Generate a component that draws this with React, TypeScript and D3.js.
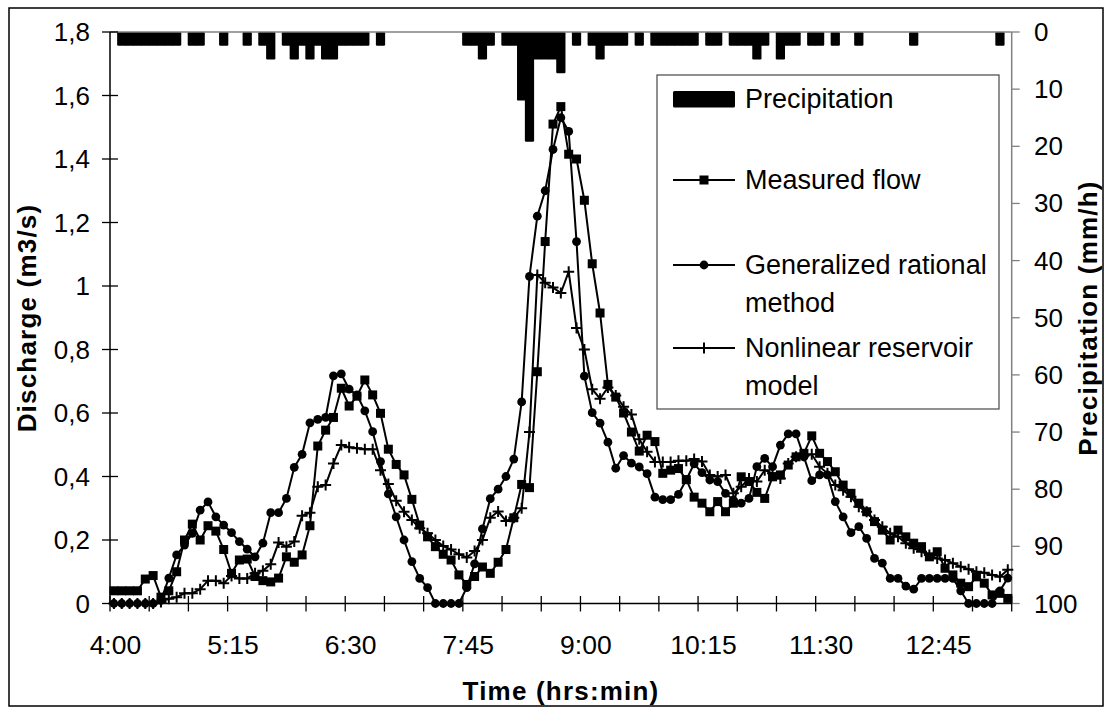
import React from 'react';
import * as d3 from 'd3';

// ---------- data ----------
const times: string[] = d3.range(115).map((i) => {
  const m = 240 + 5 * i;
  return `${Math.floor(m / 60)}:${String(m % 60).padStart(2, '0')}`;
});

const xTickLabels = ['4:00', '5:15', '6:30', '7:45', '9:00', '10:15', '11:30', '12:45'];
const leftTicks = [0, 0.2, 0.4, 0.6, 0.8, 1, 1.2, 1.4, 1.6, 1.8];
const leftTickLabels = ['0', '0,2', '0,4', '0,6', '0,8', '1', '1,2', '1,4', '1,6', '1,8'];
const rightTicks = [0, 10, 20, 30, 40, 50, 60, 70, 80, 90, 100];

const precipitation = [
  0, 2.4, 2.4, 2.4, 2.4, 2.4, 2.4, 2.4, 2.4, 0,
  2.4, 2.4, 0, 0, 2.4, 0, 0, 2.4, 0, 2.4,
  4.8, 0, 2.4, 4.8, 2.4, 4.8, 2.4, 4.8, 4.8, 2.4,
  2.4, 2.4, 2.4, 0, 2.4, 0, 0, 0, 0, 0,
  0, 0, 0, 0, 0, 2.4, 2.4, 4.8, 2.4, 0,
  2.4, 2.4, 12, 19.2, 4.8, 4.8, 4.8, 7.2, 0, 2.4,
  0, 2.4, 4.8, 2.4, 2.4, 2.4, 0, 2.4, 0, 2.4,
  2.4, 2.4, 2.4, 2.4, 2.4, 0, 2.4, 2.4, 0, 2.4,
  2.4, 2.4, 4.8, 2.4, 0, 4.8, 2.4, 2.4, 0, 2.4,
  2.4, 0, 2.4, 0, 0, 2.4, 0, 0, 0, 0,
  0, 0, 2.4, 0, 0, 0, 0, 0, 0, 0,
  0, 0, 0, 2.4, 0,
];

const measuredFlow = [
  0.04, 0.04, 0.04, 0.04, 0.077, 0.088, 0.02, 0.04, 0.1, 0.2,
  0.25, 0.2, 0.245, 0.228, 0.17, 0.095, 0.137, 0.14, 0.085, 0.072,
  0.068, 0.08, 0.147, 0.13, 0.153, 0.245, 0.496, 0.546, 0.586, 0.678,
  0.622, 0.653, 0.704, 0.657, 0.599, 0.486, 0.438, 0.405, 0.328, 0.247,
  0.21, 0.179, 0.155, 0.137, 0.09, 0.06, 0.085, 0.115, 0.095, 0.13,
  0.17, 0.27, 0.375, 0.365, 0.73, 1.14, 1.51, 1.565, 1.415, 1.4,
  1.27, 1.07, 0.915, 0.69, 0.65, 0.6, 0.54, 0.48, 0.53, 0.51,
  0.41, 0.42, 0.425, 0.39, 0.335, 0.316, 0.289, 0.321, 0.289, 0.316,
  0.399, 0.384, 0.35, 0.331, 0.399, 0.405, 0.436, 0.462, 0.473, 0.528,
  0.473, 0.447, 0.415, 0.373, 0.347, 0.316, 0.289, 0.258, 0.231, 0.2,
  0.231, 0.21, 0.19, 0.179, 0.147, 0.163, 0.111, 0.09, 0.064, 0.053,
  0.084, 0.064, 0.027, 0.032, 0.016,
];

const rationalMethod = [
  0, 0, 0, 0, 0, 0, 0.01, 0.08, 0.153, 0.184,
  0.221, 0.294, 0.32, 0.273, 0.247, 0.223, 0.195, 0.171, 0.147, 0.19,
  0.286, 0.286, 0.331, 0.429, 0.47, 0.569, 0.58, 0.586, 0.717, 0.723,
  0.675, 0.657, 0.607, 0.541, 0.447, 0.345, 0.273, 0.2, 0.132, 0.079,
  0.05, 0, 0, 0, 0, 0.05, 0.125, 0.235, 0.33, 0.36,
  0.4, 0.455, 0.635, 1.03, 1.22, 1.3, 1.43, 1.53, 1.487, 1.14,
  0.716, 0.601, 0.568, 0.508, 0.426, 0.466, 0.442, 0.43, 0.409, 0.335,
  0.327, 0.327, 0.344, 0.39, 0.44, 0.412, 0.389, 0.384, 0.347, 0.326,
  0.316, 0.331, 0.431, 0.457, 0.431, 0.499, 0.534, 0.534, 0.462, 0.387,
  0.405, 0.405, 0.321, 0.273, 0.223, 0.242, 0.205, 0.142, 0.127, 0.079,
  0.079, 0.055, 0.045, 0.079, 0.079, 0.079, 0.079, 0.079, 0.04, 0,
  0, 0, 0, 0.04, 0.08,
];

const reservoirModel = [
  0, 0, 0, 0, 0, 0, 0.005, 0.015, 0.02, 0.032,
  0.032, 0.045, 0.072, 0.072, 0.064, 0.087, 0.079, 0.079, 0.095, 0.103,
  0.124, 0.192, 0.179, 0.195, 0.276, 0.286, 0.368, 0.373, 0.441, 0.499,
  0.492, 0.489, 0.486, 0.486, 0.42, 0.376, 0.324, 0.289, 0.263, 0.237,
  0.221, 0.2, 0.181, 0.17, 0.155, 0.145, 0.165, 0.2, 0.27, 0.29,
  0.26, 0.27, 0.3, 0.54, 1.035, 1.01, 0.995, 0.978, 1.045, 0.868,
  0.8, 0.675, 0.645, 0.68, 0.655, 0.62, 0.595, 0.517, 0.478, 0.446,
  0.446, 0.446, 0.45, 0.45, 0.455, 0.447, 0.405, 0.4, 0.405, 0.347,
  0.368, 0.394, 0.384, 0.42, 0.41, 0.394, 0.441, 0.462, 0.465, 0.47,
  0.431, 0.41, 0.373, 0.357, 0.336, 0.305, 0.289, 0.263, 0.242, 0.221,
  0.21, 0.19, 0.174, 0.163, 0.153, 0.142, 0.137, 0.127, 0.116, 0.108,
  0.1, 0.097, 0.09, 0.084, 0.106,
];

// ---------- layout ----------
const W = 1109;
const H = 710;
const PL = 110;
const PR = 1011.7;
const PT = 32;
const PB = 603.5;
const FONT = '"Liberation Sans", Arial, sans-serif';

const x = d3.scaleBand<string>().domain(times).range([PL, PR]).paddingInner(0).paddingOuter(0);
const bw = x.bandwidth();
const cx = (i: number) => (x(times[i]) as number) + bw / 2;
const yL = d3.scaleLinear().domain([0, 1.8]).range([PB, PT]);
const yR = d3.scaleLinear().domain([0, 100]).range([PT, PB]);

const lineGen = d3
  .line<number>()
  .x((_d, i) => cx(i))
  .y((d) => yL(d));

const Square = ({ x0, y0 }: { x0: number; y0: number }) => (
  <rect x={x0 - 4.5} y={y0 - 4.5} width={9} height={9} fill="#000" />
);
const Dot = ({ x0, y0 }: { x0: number; y0: number }) => <circle cx={x0} cy={y0} r={4.4} fill="#000" />;
const Plus = ({ x0, y0 }: { x0: number; y0: number }) => (
  <path d={`M${x0 - 5.5},${y0}H${x0 + 5.5}M${x0},${y0 - 5.5}V${y0 + 5.5}`} stroke="#000" strokeWidth={2} fill="none" />
);

export default function App() {
  const boundaryTicks = d3.range(0, 116, 5).map((k) => PL + k * bw);
  const legendX = 657;
  const legendY = 75;
  const legendW = 342;
  const legendH = 334;
  const lx1 = 673;
  const lx2 = 735;
  const lmx = 704;
  const tx = 745;

  return (
    <svg
      width={W}
      height={H}
      viewBox={`0 0 ${W} ${H}`}
      style={{ position: 'fixed', left: 0, top: 0, background: '#fff' }}
      fontFamily={FONT}
    >
      <rect x={0} y={0} width={W} height={H} fill="#fff" />
      {/* outer frame */}
      <rect x={9} y={8} width={1094} height={698} fill="none" stroke="#000" strokeWidth={1.5} />

      {/* precipitation bars (hanging from top) */}
      <g fill="#000">
        {precipitation.map((v, i) =>
          v > 0 ? (
            <rect
              key={i}
              x={(x(times[i]) as number) - 0.7}
              y={yR(0)}
              width={bw + 1.4}
              height={yR(v) - yR(0)}
              rx={1.2}
            />
          ) : null
        )}
      </g>

      {/* top secondary category axis */}
      <line x1={PL} x2={PR} y1={PT} y2={PT} stroke="#808080" strokeWidth={1.5} />

      {/* axes */}
      <line x1={PL} x2={PL} y1={PT} y2={PB} stroke="#000" strokeWidth={1.5} />
      <line x1={PL} x2={PR} y1={PB} y2={PB} stroke="#000" strokeWidth={1.5} />
      <line x1={PR} x2={PR} y1={PT} y2={PB} stroke="#808080" strokeWidth={1.5} />

      {/* left ticks */}
      {leftTicks.map((v, i) => (
        <g key={`l${i}`}>
          <line x1={PL - 8} x2={PL + 8} y1={yL(v)} y2={yL(v)} stroke="#000" strokeWidth={1.3} />
          <text x={90} y={yL(v) + 9} textAnchor="end" fontSize={26} fill="#000">
            {leftTickLabels[i]}
          </text>
        </g>
      ))}

      {/* right ticks */}
      {rightTicks.map((v) => (
        <g key={`r${v}`}>
          <line x1={PR} x2={PR + 8} y1={yR(v)} y2={yR(v)} stroke="#808080" strokeWidth={1.3} />
          <text x={1034} y={yR(v) + 9} textAnchor="start" fontSize={26} fill="#000">
            {v}
          </text>
        </g>
      ))}

      {/* x ticks */}
      {boundaryTicks.map((bx, i) => (
        <line key={`x${i}`} x1={bx} x2={bx} y1={PB - 7.5} y2={PB + 8} stroke="#000" strokeWidth={1.3} />
      ))}
      {xTickLabels.map((t) => (
        <text key={t} x={(x(t) as number) + bw / 2 + 1.5} y={654} textAnchor="middle" fontSize={26.5} fill="#000">
          {t}
        </text>
      ))}

      {/* axis titles */}
      <text
        x={561}
        y={700}
        textAnchor="middle"
        fontSize={26}
        fontWeight="bold"
        letterSpacing={1.2}
        fill="#000"
      >
        Time (hrs:min)
      </text>
      <text
        transform={`translate(36,318) rotate(-90)`}
        textAnchor="middle"
        fontSize={26}
        fontWeight="bold"
        letterSpacing={1.2}
        fill="#000"
      >
        Discharge (m3/s)
      </text>
      <text
        transform={`translate(1097,318) rotate(-90)`}
        textAnchor="middle"
        fontSize={26}
        fontWeight="bold"
        letterSpacing={1.2}
        fill="#000"
      >
        Precipitation (mm/h)
      </text>

      {/* series lines */}
      <path d={lineGen(reservoirModel) || ''} fill="none" stroke="#000" strokeWidth={2} />
      <path d={lineGen(rationalMethod) || ''} fill="none" stroke="#000" strokeWidth={2} />
      <path d={lineGen(measuredFlow) || ''} fill="none" stroke="#000" strokeWidth={2} />

      {reservoirModel.map((v, i) => (
        <Plus key={`p${i}`} x0={cx(i)} y0={yL(v)} />
      ))}
      {rationalMethod.map((v, i) => (
        <Dot key={`c${i}`} x0={cx(i)} y0={yL(v)} />
      ))}
      {measuredFlow.map((v, i) => (
        <Square key={`s${i}`} x0={cx(i)} y0={yL(v)} />
      ))}

      {/* legend */}
      <rect x={legendX} y={legendY} width={legendW} height={legendH} fill="#fff" stroke="#555" strokeWidth={1.3} />
      <rect x={lx1} y={91} width={lx2 - lx1} height={16.5} fill="#000" rx={1.5} />
      <text x={tx} y={107.5} fontSize={27} fill="#000">
        Precipitation
      </text>

      <line x1={lx1} x2={lx2} y1={180} y2={180} stroke="#000" strokeWidth={2} />
      <Square x0={lmx} y0={180} />
      <text x={tx} y={188.5} fontSize={27} fill="#000">
        Measured flow
      </text>

      <line x1={lx1} x2={lx2} y1={265} y2={265} stroke="#000" strokeWidth={2} />
      <Dot x0={lmx} y0={265} />
      <text x={tx} y={273.5} fontSize={27} fill="#000">
        Generalized rational
      </text>
      <text x={tx} y={311.5} fontSize={27} fill="#000">
        method
      </text>

      <line x1={lx1} x2={lx2} y1={348} y2={348} stroke="#000" strokeWidth={2} />
      <Plus x0={lmx} y0={348} />
      <text x={tx} y={356.5} fontSize={27} fill="#000">
        Nonlinear reservoir
      </text>
      <text x={tx} y={394.5} fontSize={27} fill="#000">
        model
      </text>
    </svg>
  );
}
